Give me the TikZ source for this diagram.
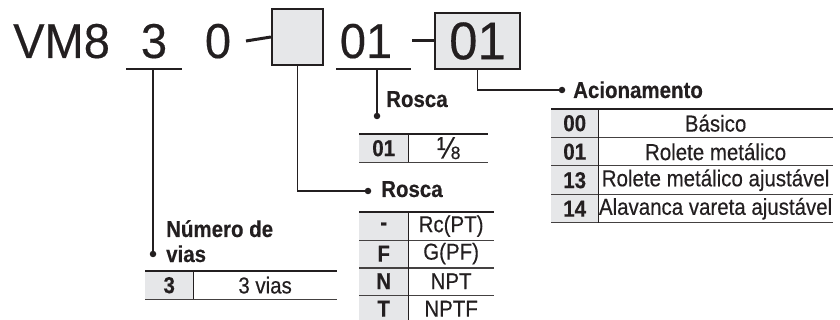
\documentclass[tikz,border=0pt]{standalone}
\usepackage{fontspec}
\setmainfont{Liberation Sans}[FakeStretch=0.89, FakeBold=0.35]
\newfontfamily\bigfam{Liberation Sans}[FakeStretch=0.96, FakeBold=0.3]
\usetikzlibrary{positioning}
\definecolor{ink}{HTML}{231F20}
\definecolor{keygray}{HTML}{E6E7E9}
\newcommand{\bigsz}{\bigfam\fontsize{49}{49}\selectfont}
\newcommand{\tabsz}{\fontsize{23}{26}\selectfont}
\tikzset{
  big/.style     ={font=\bigsz, text=ink, anchor=base, inner sep=0pt},
  pbox/.style    ={draw=ink, fill=keygray, line width=2.2pt, inner sep=0pt},
  hd/.style      ={font=\tabsz\bfseries, text=ink, anchor=base west, inner sep=0pt},
  key/.style     ={fill=keygray, font=\tabsz\bfseries, text=ink, minimum width=48pt,
                   minimum height=28pt, inner sep=0pt, anchor=north west},
  val/.style     ={font=\tabsz, text=ink, minimum height=28pt, inner sep=0pt, anchor=north west},
  pin/.style     ={circle, fill=ink, inner sep=0pt, minimum size=6.5pt},
  ln/.style      ={draw=ink, line width=1.8pt},
  dashln/.style  ={draw=ink, line width=3pt},
  toprule/.style ={draw=ink, line width=2.4pt},
  rowrule/.style ={draw=ink!85, line width=1.2pt},
  colrule/.style ={draw=ink, line width=1.4pt}
}

\begin{document}
\begin{tikzpicture}[x=1pt,y=-1pt]
  \path[fill=white, use as bounding box] (0,0) rectangle (840,320);

  % part number
  \node[big, anchor=base west] (vm) at (13,58) {VM8};
  \node[big] (n3) at (154,58) {3};
  \node[big] (n0) at (218,58) {0};
  \node[pbox, minimum width=51pt, minimum height=56pt] (box1) at (297.5,37) {};
  \node[big] (n01) at (366,58) {01};
  \node[pbox, big, font=\bigfam\fontsize{53}{53}\selectfont, anchor=center,
        minimum width=85pt, minimum height=56pt] (box2) at (477.5,41) {01};
  \coordinate (d1) at (246,41);
  \coordinate (d2) at (412,41);
  \draw[dashln] (d1) -- (box1.west);
  \draw[dashln] (d2) -- (box2.west);
  \coordinate (u3a) at (126,69);  \coordinate (u3b) at (182,69);  \coordinate (u3) at (153,69);
  \coordinate (u1a) at (336,69);  \coordinate (u1b) at (411,69);  \coordinate (u1) at (377,69);
  \draw[ln] (u3a) -- (u3b);
  \draw[ln] (u1a) -- (u1b);

  % pins and headings
  \node[pin] (pv)  at (153,254) {};
  \node[pin] (pr1) at (377,116) {};
  \node[pin] (pr2) at (368,191) {};
  \node[pin] (pac) at (562,90) {};
  \node[hd] (hv1) at (166,237) {Número de};
  \node[hd] (hv2) at (166,262) {vias};
  \node[hd] (hr1) at (386,107) {Rosca};
  \node[hd] (hr2) at (381,197) {Rosca};
  \node[hd] (hac) at (573,98) {Acionamento};
  \draw[ln] (u3) -- (pv);
  \draw[ln] (u1) -- (pr1);
  \draw[ln] (box1.south) |- (pr2);
  \draw[ln] (box2.south) |- (pac);

  % table: vias
  \node[key] (tv-k1) at (145,271) {3};
  \node[val, minimum width=143pt] (tv-v1) at (tv-k1.north east) {3 vias};
  \draw[toprule] (tv-k1.north west) -- (tv-v1.north east);
  \draw[rowrule] (tv-k1.south west) -- (tv-v1.south east);
  \draw[colrule] (tv-k1.north east) -- (tv-k1.south east);

  % table: rosca (01)
  \node[key, minimum width=49pt] (tr-k1) at (359,134) {01};
  \node[val, minimum width=79pt] (tr-v1) at (tr-k1.north east) {\fontsize{31}{31}\selectfont ⅛};
  \draw[toprule] (tr-k1.north west) -- (tr-v1.north east);
  \draw[rowrule] (tr-k1.south west) -- (tr-v1.south east);
  \draw[colrule] (tr-k1.north east) -- (tr-k1.south east);

  % table: rosca (box)
  \foreach \k/\v [count=\i] in {-/Rc(PT), F/G(PF), N/NPT, T/NPTF}{
    \node[key, minimum width=49pt] (ts-k\i) at (359,{212+27.5*(\i-1)}) {\k};
    \node[val, minimum width=85pt] (ts-v\i) at (ts-k\i.north east) {\v};
  }
  \foreach \i in {1,...,4}
    \draw[rowrule] (ts-k\i.south west) -- (ts-v\i.south east);
  \draw[toprule] (ts-k1.north west) -- (ts-v1.north east);
  \draw[colrule] (ts-k1.north east) -- (ts-k4.south east);

  % table: acionamento
  \foreach \k/\v [count=\i] in {00/Básico, 01/Rolete metálico,
      13/Rolete metálico ajustável, 14/Alavanca vareta ajustável}{
    \node[key, minimum width=47pt] (ta-k\i) at (551,{109+28.5*(\i-1)}) {\k};
    \node[val, minimum width=234pt] (ta-v\i) at (ta-k\i.north east) {\v};
  }
  \foreach \i in {1,...,4}
    \draw[rowrule] (ta-k\i.south west) -- (ta-v\i.south east);
  \draw[toprule] (ta-k1.north west) -- (ta-v1.north east);
  \draw[colrule] (ta-k1.north east) -- (ta-k4.south east);
\end{tikzpicture}
\end{document}
